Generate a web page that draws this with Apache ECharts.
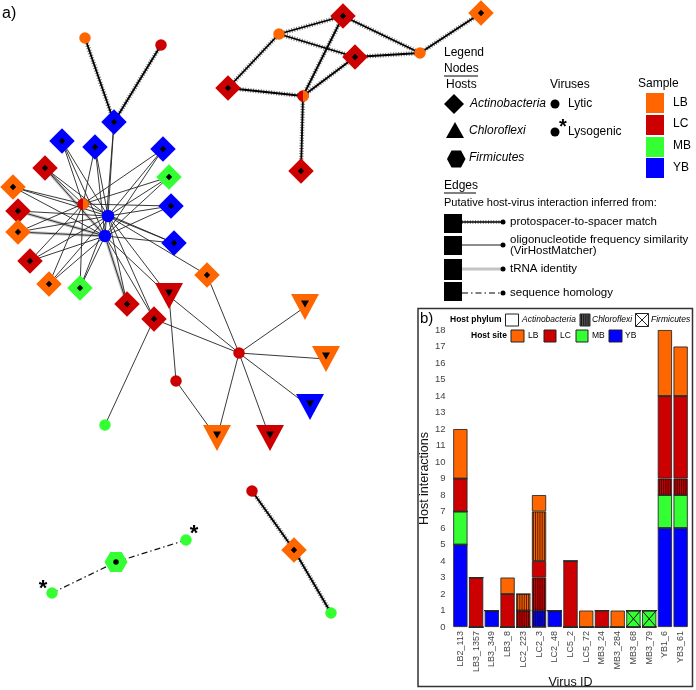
<!DOCTYPE html>
<html><head><meta charset="utf-8">
<script src="https://cdn.jsdelivr.net/npm/echarts@6/dist/echarts.min.js"></script>
<style>html,body{margin:0;padding:0;background:#fff}#c{width:696px;height:690px}</style>
</head><body><div id="c"></div>
<script>
// ---------- Panel b data ----------
const virusIds = ['LB2_113','LB3_1357','LB3_349','LB3_8','LC2_223','LC2_3','LC2_48','LC5_2','LC5_72','MB3_24','MB3_284','MB3_68','MB3_79','YB1_6','YB3_61'];
const ybAct  = [5,0,1,0,0,0,1,0,0,0,0,0,0,6,6];
const ybChl  = [0,0,0,0,0,1,0,0,0,0,0,0,0,0,0];
const mbAct  = [2,0,0,0,0,0,0,0,0,0,0,0,0,2,2];
const mbFirm = [0,0,0,0,0,0,0,0,0,0,0,1,1,0,0];
const lcChl  = [0,0,0,0,1,2,0,0,0,0,0,0,0,1,1];
const lcAct  = [2,3,0,2,0,1,0,4,0,1,0,0,0,5,5];
const lbChl  = [0,0,0,0,1,3,0,0,0,0,0,0,0,0,0];
const lbAct  = [3,0,0,1,0,1,0,0,1,0,1,0,0,4,3];
const yTicks = [0,18,1];

// ---------- Panel a network data (layout units) ----------
// [id, x, y, phylum, site]
const hostNodes = [
 ['h1',114,122,'Act','YB'],['h2',62,141,'Act','YB'],['h3',95,147,'Act','YB'],['h4',163,149,'Act','YB'],
 ['h5',45,168,'Act','LC'],['h6',169,177,'Act','MB'],['h7',13,187,'Act','LB'],['h8',171,206,'Act','YB'],
 ['h9',18,211,'Act','LC'],['h10',18,232,'Act','LB'],['h11',174,243,'Act','YB'],['h12',30,261,'Act','LC'],
 ['h13',49,284,'Act','LB'],['h14',80,288,'Act','MB'],['h15',207,275,'Act','LB'],['h16',169,296,'Chl','LC'],
 ['h17',127,304,'Act','LC'],['h18',154,319,'Act','LC'],['h19',305,307,'Chl','LB'],['h20',326,359,'Chl','LB'],
 ['h21',310,407,'Chl','YB'],['h22',270,438,'Chl','LC'],['h23',217,438,'Chl','LB'],
 ['h24',343,16,'Act','LC'],['h25',481,13,'Act','LB'],['h26',355,57,'Act','LC'],['h27',228,88,'Act','LC'],
 ['h28',301,171,'Act','LC'],['h29',116,562,'Firm','MB'],['h30',294,550,'Act','LB']
];
// [id, x, y, site, lysogenic]
const virusNodes = [
 ['LB3_349',85,38,'LB',0],['LC2_48',161,45,'LC',0],['LB2_113',83,204,'LC|LB',0],
 ['YB1_6',108,216,'YB',0],['YB3_61',105,236,'YB',0],['LC2_3',239,353,'LC',0],
 ['LC2_223',176,381,'LC',0],['MB3_24',105,425,'MB',0],['LB3_1357',279,34,'LB',0],
 ['LB3_8',420,53,'LB',0],['LC5_2',303,96,'LC|LB',0],['MB3_68',52,593,'MB',1],
 ['MB3_79',186,540,'MB',1],['LC5_72',252,491,'LC',0],['MB3_284',331,613,'MB',0]
];
// edges: [virus, host, type]  p=protospacer, o=oligonucleotide, t=tRNA, s=sequence homology
const edgeList = [
 ['LB3_349','h1','p'],['LC2_48','h1','p'],
 ['LB2_113','h2','o'],['LB2_113','h3','o'],['LB2_113','h4','o'],['LB2_113','h8','o'],['LB2_113','h11','o'],
 ['LB2_113','h6','o'],['LB2_113','h14','o'],['LB2_113','h5','o'],['LB2_113','h12','o'],
 ['LB2_113','h7','o'],['LB2_113','h10','o'],['LB2_113','h13','o'],
 ['YB1_6','h1','o'],['YB1_6','h2','o'],['YB1_6','h3','o'],['YB1_6','h4','o'],['YB1_6','h8','o'],['YB1_6','h11','o'],
 ['YB1_6','h6','o'],['YB1_6','h14','o'],['YB1_6','h16','o'],['YB1_6','h5','o'],['YB1_6','h9','o'],['YB1_6','h12','o'],
 ['YB1_6','h17','o'],['YB1_6','h18','o'],['YB1_6','h7','o'],['YB1_6','h10','o'],['YB1_6','h13','o'],['YB1_6','h15','o'],
 ['YB3_61','h1','o'],['YB3_61','h2','o'],['YB3_61','h3','o'],['YB3_61','h4','o'],['YB3_61','h8','o'],['YB3_61','h11','o'],
 ['YB3_61','h6','o'],['YB3_61','h14','o'],['YB3_61','h16','o'],['YB3_61','h5','o'],['YB3_61','h9','o'],['YB3_61','h12','o'],
 ['YB3_61','h17','o'],['YB3_61','h18','o'],['YB3_61','h7','o'],['YB3_61','h10','o'],['YB3_61','h13','o'],
 ['YB3_61','h5','t'],['YB3_61','h9','t'],['YB3_61','h10','t'],['YB3_61','h17','t'],
 ['LC2_3','h15','o'],['LC2_3','h16','o'],['LC2_3','h18','o'],['LC2_3','h19','o'],['LC2_3','h20','o'],
 ['LC2_3','h21','o'],['LC2_3','h22','o'],['LC2_3','h23','o'],
 ['LC2_223','h16','o'],['LC2_223','h23','o'],['MB3_24','h18','o'],
 ['LB3_1357','h24','p'],['LB3_1357','h26','p'],['LB3_1357','h27','p'],
 ['LB3_8','h24','p'],['LB3_8','h26','p'],['LB3_8','h25','p'],
 ['LC5_2','h24','p'],['LC5_2','h26','p'],['LC5_2','h27','p'],['LC5_2','h28','p'],
 ['MB3_68','h29','s'],['MB3_79','h29','s'],['LC5_72','h30','p'],['MB3_284','h30','p']
];

const siteColor = {LB:'#ff6600', LC:'#cc0000', MB:'#33ff33', YB:'#0000ff'};
const FONT = 'Liberation Sans, Arial, sans-serif';
const HEX = 'path://M0,8.66 L5,0 L15,0 L20,8.66 L15,17.32 L5,17.32 Z';
const HALF = 'path://M0,0 A10,10 0 0 1 0,20 Z';

const chart = echarts.init(document.getElementById('c'), null, {renderer:'canvas'});

const pos = {};
hostNodes.forEach(h => pos[h[0]] = [h[1], h[2]]);
virusNodes.forEach(v => pos[v[0]] = [v[1], v[2]]);
const edgesOf = t => edgeList.filter(e => e[2] === t).map(e => ({coords:[pos[e[0]], pos[e[1]]]}));

const hostData = hostNodes.map(h => {
  const c = siteColor[h[4]];
  if (h[3] === 'Act') return {value:[h[1],h[2]], symbol:'rect', symbolSize:18, symbolRotate:45, itemStyle:{color:c, opacity:1}};
  if (h[3] === 'Chl') return {value:[h[1],h[2]], symbol:'triangle', symbolSize:[28,26], symbolRotate:180, itemStyle:{color:c, opacity:1}};
  return {value:[h[1],h[2]], symbol:HEX, symbolSize:[23,20], itemStyle:{color:c, opacity:1}};
});
const hostInner = hostNodes.map(h => {
  if (h[3] === 'Act') return {value:[h[1],h[2]], symbol:'rect', symbolSize:4.5, symbolRotate:45};
  if (h[3] === 'Chl') return {value:[h[1],h[2]], symbol:'triangle', symbolSize:[8,7], symbolRotate:180, symbolOffset:[0,-3]};
  return {value:[h[1],h[2]], symbol:'circle', symbolSize:5.5};
});
const virusData = virusNodes.map(v => {
  const s = v[3].split('|')[0];
  const item = {value:[v[1],v[2]], symbolSize: s==='YB'?12.5:11.5, itemStyle:{color:siteColor[s], opacity:1}};
  if (v[4]) item.label = {show:true, formatter:'*', fontSize:22, fontWeight:'bold', color:'#000',
     position:'inside', offset: v[1] < 100 ? [-9,-4] : [8,-6], fontFamily:FONT};
  return item;
});
const halfData = virusNodes.filter(v => v[3].indexOf('|')>=0).map(v => ({value:[v[1],v[2]], itemStyle:{color:siteColor[v[3].split('|')[1]], opacity:1}}));

// panel b stacked data
const stackOrder = [[ybAct,'YB',0],[ybChl,'YB',1],[mbAct,'MB',0],[mbFirm,'MB',2],[lcChl,'LC',1],[lcAct,'LC',0],[lbChl,'LB',1],[lbAct,'LB',0]];
const BAR_W = 14.3;
const overlay = [];
virusIds.forEach((v,i) => {
  let base = 0;
  stackOrder.forEach(s => {
    const val = s[0][i];
    if (val > 0 && s[2] > 0) overlay.push([i, base, base + val, s[2]]);
    base += val;
  });
});
const barSeries = stackOrder.map(s => ({
  type:'bar', stack:'tot', xAxisIndex:1, yAxisIndex:1, barWidth:BAR_W, data:s[0],
  itemStyle:{color:siteColor[s[1]], borderColor:'#2a2a2a', borderWidth:0.9}, silent:true
}));

function renderOverlay(params, api){
  const i = api.value(0), b = api.value(1), t = api.value(2), k = api.value(3);
  const p0 = api.coord([i, b]), p1 = api.coord([i, t]);
  const x0 = p0[0] - BAR_W/2, x1 = p0[0] + BAR_W/2;
  const ch = [];
  if (k === 1) {
    for (let x = x0 + 1.5; x < x1 - 0.5; x += 2.2) {
      ch.push({type:'line', shape:{x1:x, y1:p1[1]+0.5, x2:x, y2:p0[1]-0.5}, style:{stroke:'rgba(25,0,0,0.75)', lineWidth:1}});
    }
  } else {
    ch.push({type:'line', shape:{x1:x0, y1:p1[1], x2:x1, y2:p0[1]}, style:{stroke:'#111', lineWidth:1}});
    ch.push({type:'line', shape:{x1:x0, y1:p0[1], x2:x1, y2:p1[1]}, style:{stroke:'#111', lineWidth:1}});
  }
  return {type:'group', children:ch};
}

const T = (x,y,text,extra) => Object.assign({type:'text', x, y, style:Object.assign({text, fontFamily:FONT, fontSize:12, fill:'#000', textVerticalAlign:'middle'}, extra||{})});
const legendA = [
  T(2,14,'a)',{fontSize:16}),
  T(444,53,'Legend'),
  T(444,69,'Nodes'), {type:'line', shape:{x1:444,y1:76,x2:478,y2:76}, style:{stroke:'#000',lineWidth:1}},
  T(446,85,'Hosts'), T(550,85,'Viruses'), T(638,84,'Sample'),
  {type:'polygon', shape:{points:[[454,94],[464,104],[454,114],[444,104]]}, style:{fill:'#000'}},
  T(470,104,'Actinobacteria',{fontStyle:'italic'}),
  {type:'polygon', shape:{points:[[455,122],[464,138],[446,138]]}, style:{fill:'#000'}},
  T(469,131,'Chloroflexi',{fontStyle:'italic'}),
  {type:'polygon', shape:{points:[[447,159],[451.5,150.5],[461,150.5],[465.5,159],[461,167.5],[451.5,167.5]]}, style:{fill:'#000'}},
  T(469,158,'Firmicutes',{fontStyle:'italic'}),
  {type:'circle', shape:{cx:555,cy:104,r:4.5}, style:{fill:'#000'}}, T(568,104,'Lytic'),
  {type:'circle', shape:{cx:555,cy:132,r:4.5}, style:{fill:'#000'}}, T(559,127,'*',{fontSize:20,fontWeight:'bold'}), T(568,132,'Lysogenic'),
  {type:'rect', shape:{x:646,y:93,width:18,height:20}, style:{fill:siteColor.LB}}, T(673,103,'LB'),
  {type:'rect', shape:{x:646,y:115,width:18,height:20}, style:{fill:siteColor.LC}}, T(673,124,'LC'),
  {type:'rect', shape:{x:646,y:137,width:18,height:20}, style:{fill:siteColor.MB}}, T(673,146,'MB'),
  {type:'rect', shape:{x:646,y:158,width:18,height:20}, style:{fill:siteColor.YB}}, T(673,168,'YB'),
  T(444,186,'Edges'), {type:'line', shape:{x1:444,y1:193,x2:476,y2:193}, style:{stroke:'#000',lineWidth:1}},
  T(444,203,'Putative host-virus interaction inferred from:',{fontSize:11}),
  {type:'rect', shape:{x:444,y:214,width:18,height:19}, style:{fill:'#000'}},
  {type:'rect', shape:{x:444,y:236,width:18,height:19}, style:{fill:'#000'}},
  {type:'rect', shape:{x:444,y:259,width:18,height:21}, style:{fill:'#000'}},
  {type:'rect', shape:{x:444,y:282,width:18,height:19}, style:{fill:'#000'}},
  {type:'line', shape:{x1:462,y1:222,x2:503,y2:222}, style:{stroke:'#888',lineWidth:4,lineDash:[1,1.6]}},
  {type:'line', shape:{x1:462,y1:222,x2:503,y2:222}, style:{stroke:'#000',lineWidth:1.3}},
  {type:'circle', shape:{cx:503,cy:222,r:2.5}, style:{fill:'#000'}},
  T(510,222,'protospacer-to-spacer match',{fontSize:11.5}),
  {type:'line', shape:{x1:462,y1:245,x2:503,y2:245}, style:{stroke:'#000',lineWidth:0.9}},
  {type:'circle', shape:{cx:503,cy:245,r:2.5}, style:{fill:'#000'}},
  T(510,240,'oligonucleotide frequency similarity',{fontSize:11.5}),
  T(510,251,'(VirHostMatcher)',{fontSize:11.5}),
  {type:'line', shape:{x1:462,y1:269,x2:503,y2:269}, style:{stroke:'#c4c4c4',lineWidth:3}},
  {type:'circle', shape:{cx:503,cy:269,r:2.5}, style:{fill:'#000'}},
  T(510,269,'tRNA identity',{fontSize:11.5}),
  {type:'line', shape:{x1:462,y1:293,x2:503,y2:293}, style:{stroke:'#000',lineWidth:1,lineDash:[6,3,1.5,3]}},
  {type:'circle', shape:{cx:503,cy:293,r:2.5}, style:{fill:'#000'}},
  T(510,293,'sequence homology',{fontSize:11.5})
];
const SB = {fontSize:8.5};
const legendB = [
  {type:'rect', shape:{x:418,y:308.5,width:274.5,height:378}, style:{fill:'none', stroke:'#333', lineWidth:1.5}},
  T(420,319,'b)',{fontSize:15}),
  T(450,320,'Host phylum',{fontSize:8.5,fontWeight:'bold'}),
  {type:'rect', shape:{x:505.5,y:314,width:13,height:12}, style:{fill:'#fff',stroke:'#222',lineWidth:1}},
  T(522,320,'Actinobacteria',{fontSize:8.5,fontStyle:'italic'}),
  {type:'rect', shape:{x:580,y:314,width:10,height:12}, style:{fill:'#555',stroke:'#222',lineWidth:1}},
  T(592,320,'Chloroflexi',{fontSize:8.5,fontStyle:'italic'}),
  {type:'rect', shape:{x:635.5,y:313.5,width:13,height:13}, style:{fill:'#fff',stroke:'#222',lineWidth:1}},
  {type:'line', shape:{x1:635.5,y1:313.5,x2:648.5,y2:326.5}, style:{stroke:'#222',lineWidth:1}},
  {type:'line', shape:{x1:648.5,y1:313.5,x2:635.5,y2:326.5}, style:{stroke:'#222',lineWidth:1}},
  T(651,320,'Firmicutes',{fontSize:8.5,fontStyle:'italic'}),
  T(471,336,'Host site',{fontSize:8.5,fontWeight:'bold'}),
  {type:'rect', shape:{x:511,y:330,width:13,height:12}, style:{fill:siteColor.LB,stroke:'#222',lineWidth:1}}, T(528,336,'LB',SB),
  {type:'rect', shape:{x:544,y:330,width:12,height:12}, style:{fill:siteColor.LC,stroke:'#222',lineWidth:1}}, T(560,336,'LC',SB),
  {type:'rect', shape:{x:576,y:330,width:12,height:12}, style:{fill:siteColor.MB,stroke:'#222',lineWidth:1}}, T(592,336,'MB',SB),
  {type:'rect', shape:{x:609,y:330,width:13,height:12}, style:{fill:siteColor.YB,stroke:'#222',lineWidth:1}}, T(625,336,'YB',SB)
];
for (let x = 581.5; x < 590; x += 2.2) legendB.push({type:'line', shape:{x1:x,y1:314.5,x2:x,y2:325.5}, style:{stroke:'#111',lineWidth:0.9}});

const option = {
  animation:false,
  textStyle:{fontFamily:FONT},
  grid:[
    {left:0, top:0, width:696, height:690},
    {left:452.5, right:7.5, top:330, bottom:58.3}
  ],
  xAxis:[
    {gridIndex:0, type:'value', min:0, max:696, show:false},
    {gridIndex:1, type:'category', data:virusIds, axisLine:{show:false}, axisTick:{show:false},
     axisLabel:{rotate:90, fontSize:9, color:'#444', margin:4, fontFamily:FONT},
     name:'Virus ID', nameLocation:'middle', nameGap:48, nameTextStyle:{fontSize:12.5, color:'#111', fontFamily:FONT}}
  ],
  yAxis:[
    {gridIndex:0, type:'value', min:0, max:690, inverse:true, show:false},
    {gridIndex:1, type:'value', min:yTicks[0], max:yTicks[1], interval:yTicks[2], axisLine:{show:false}, axisTick:{show:false},
     splitLine:{show:false}, axisLabel:{fontSize:9.5, color:'#444', margin:7, fontFamily:FONT},
     name:'Host interactions', nameLocation:'middle', nameGap:19, nameTextStyle:{fontSize:12.5, color:'#111', fontFamily:FONT}}
  ],
  series:[
    {type:'lines', coordinateSystem:'cartesian2d', xAxisIndex:0, yAxisIndex:0, z:1, silent:true,
     lineStyle:{color:'#c4c4c4', width:3.2, opacity:1}, data:edgesOf('t')},
    {type:'lines', coordinateSystem:'cartesian2d', xAxisIndex:0, yAxisIndex:0, z:2, silent:true,
     lineStyle:{color:'#222', width:0.9, opacity:1}, data:edgesOf('o')},
    {type:'lines', coordinateSystem:'cartesian2d', xAxisIndex:0, yAxisIndex:0, z:2, silent:true,
     lineStyle:{color:'#777', width:4.5, opacity:1, type:[1,1.6]}, data:edgesOf('p')},
    {type:'lines', coordinateSystem:'cartesian2d', xAxisIndex:0, yAxisIndex:0, z:3, silent:true,
     lineStyle:{color:'#000', width:1.8, opacity:1}, data:edgesOf('p')},
    {type:'lines', coordinateSystem:'cartesian2d', xAxisIndex:0, yAxisIndex:0, z:3, silent:true,
     lineStyle:{color:'#111', width:1.2, opacity:1, type:[6,3,1.5,3]}, data:edgesOf('s')},
    {type:'scatter', xAxisIndex:0, yAxisIndex:0, z:5, silent:true, data:hostData},
    {type:'scatter', xAxisIndex:0, yAxisIndex:0, z:6, silent:true, itemStyle:{color:'#000', opacity:1}, data:hostInner},
    {type:'scatter', xAxisIndex:0, yAxisIndex:0, z:5, silent:true, symbol:'circle', data:virusData},
    {type:'scatter', xAxisIndex:0, yAxisIndex:0, z:6, silent:true, symbol:HALF, symbolSize:[5.75,11.5], symbolOffset:[2.875,0], data:halfData},
    ...barSeries,
    {type:'custom', xAxisIndex:1, yAxisIndex:1, z:10, silent:true, renderItem:renderOverlay, data:overlay, encode:{x:0, y:[1,2]}}
  ],
  graphic:{elements:[...legendA, ...legendB]}
};
chart.setOption(option);
</script></body></html>
